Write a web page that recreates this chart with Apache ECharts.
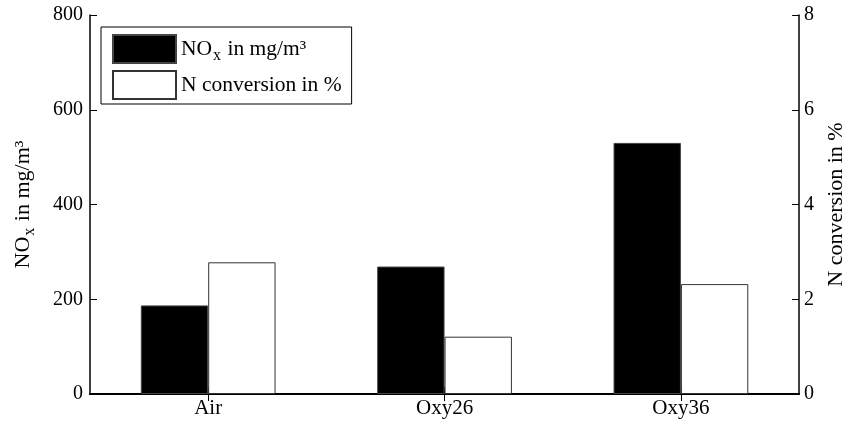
<!DOCTYPE html>
<html><head><meta charset="utf-8">
<script src="https://cdn.jsdelivr.net/npm/echarts@6/dist/echarts.min.js"></script>
<style>html,body{margin:0;padding:0;background:#fff}#c{width:855px;height:423px}</style>
</head><body><div id="c"></div>
<script>
const categories = ['Air', 'Oxy26', 'Oxy36'];
const noxValues = [187, 269, 530];
const nConversion = [2.78, 1.21, 2.32];
const leftTicks = [0, 200, 400, 600, 800];
const rightTicks = [0, 2, 4, 6, 8];

const FONT = 'Liberation Serif';
const richLegend = {
  n: { fontFamily: FONT, fontSize: 21.5, color: '#000' },
  s: { fontFamily: FONT, fontSize: 16, color: '#000', padding: [13, 1, 0, 1] }
};
const richName = {
  n: { fontFamily: FONT, fontSize: 22, color: '#000' },
  s: { fontFamily: FONT, fontSize: 16, color: '#000', padding: [13, 1, 0, 1] }
};
const chart = echarts.init(document.getElementById('c'), null, { renderer: 'canvas' });
const tickInside = { show: true, inside: true, length: 7, alignWithLabel: true, lineStyle: { color: '#000', width: 1 } };
chart.setOption({
  animation: false,
  backgroundColor: '#fff',
  textStyle: { fontFamily: FONT },
  grid: { left: 90, right: 43, top: 15, bottom: 29, containLabel: false },
  legend: {
    orient: 'vertical', left: 101, top: 27,
    padding: [7, 10, 4, 11],
    itemWidth: 63, itemHeight: 28, itemGap: 6,
    borderColor: '#000', borderWidth: 1,
    icon: 'rect',
    data: ['NOx', 'Nconv'],
    formatter: function (name) {
      return name === 'NOx' ? '{n|NO}{s|x}{n| in mg/m³}' : '{n|N conversion in %}';
    },
    textStyle: { fontFamily: FONT, fontSize: 21.5, color: '#000', rich: richLegend }
  },
  xAxis: [{
    type: 'category', data: categories, position: 'bottom',
    axisLine: { show: true, lineStyle: { color: '#000', width: 2 } },
    axisTick: tickInside,
    axisLabel: { color: '#000', fontFamily: FONT, fontSize: 21, margin: 4 }
  }, {
    type: 'category', data: categories, position: 'top',
    axisLine: { show: true, lineStyle: { color: '#000', width: 1 } },
    axisTick: tickInside,
    axisLabel: { show: false }
  }],
  yAxis: [{
    type: 'value', min: 0, max: 800, interval: 200, position: 'left',
    name: '{n|NO}{s|x}{n| in mg/m³}', nameLocation: 'middle', nameRotate: 90, nameGap: 52,
    nameTextStyle: { rich: richName },
    axisLine: { show: true, lineStyle: { color: '#000', width: 1.5 } },
    axisTick: { show: true, inside: true, length: 7, lineStyle: { color: '#000' } },
    axisLabel: { color: '#000', fontFamily: FONT, fontSize: 20, margin: 7,
      formatter: v => leftTicks.includes(v) ? String(v) : '' },
    splitLine: { show: false }
  }, {
    type: 'value', min: 0, max: 8, interval: 2, position: 'right',
    name: 'N conversion in %', nameLocation: 'middle', nameRotate: 90, nameGap: 25,
    nameTextStyle: { color: '#000', fontFamily: FONT, fontSize: 22 },
    axisLine: { show: true, lineStyle: { color: '#000', width: 1.5 } },
    axisTick: { show: true, inside: true, length: 7, lineStyle: { color: '#000' } },
    axisLabel: { color: '#000', fontFamily: FONT, fontSize: 20, margin: 5,
      formatter: v => rightTicks.includes(v) ? String(v) : '' },
    splitLine: { show: false }
  }],
  series: [{
    name: 'NOx', type: 'bar', xAxisIndex: 0, yAxisIndex: 0, data: noxValues,
    barGap: '0%', barCategoryGap: '43%',
    itemStyle: { color: '#000', borderColor: '#444', borderWidth: 1 }
  }, {
    name: 'Nconv', type: 'bar', xAxisIndex: 0, yAxisIndex: 1, data: nConversion,
    barGap: '0%', barCategoryGap: '43%',
    itemStyle: { color: '#fff', borderColor: '#333', borderWidth: 1 }
  }]
});
</script></body></html>
